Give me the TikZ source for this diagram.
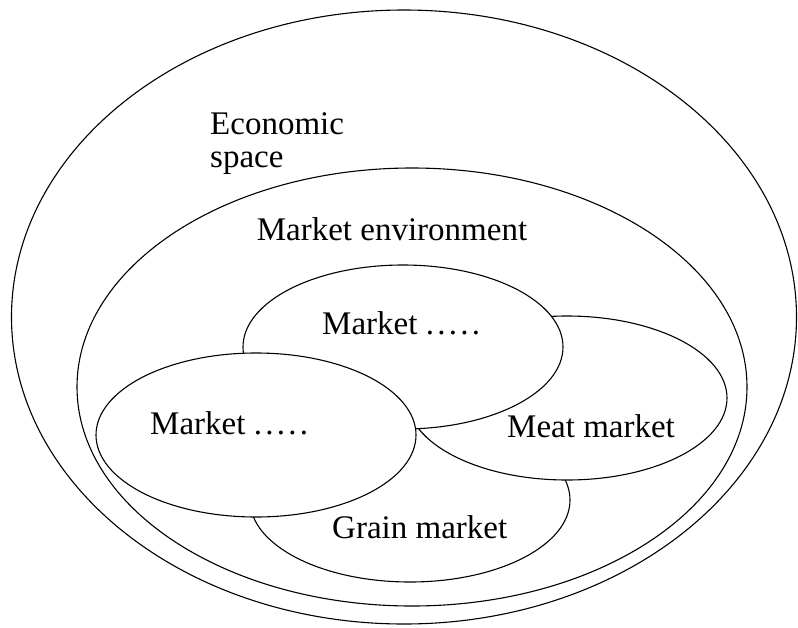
\documentclass[tikz,border=0pt]{standalone}
\usepackage{fontspec}
\setmainfont{Liberation Serif}
\usetikzlibrary{shapes.geometric}
\newcommand\sparsedots{{\addfontfeature{LetterSpace=10}.....}}
\begin{document}
\begin{tikzpicture}[x=1pt,y=-1pt,
  oval/.style={draw, ellipse, fill=white, line width=1.1pt, inner sep=0pt, outer sep=0pt},
  mkt/.style={oval, minimum width=320pt, minimum height=164pt},
  lbl/.style={inner sep=0pt, font=\fontsize{33}{33}\selectfont}]
\useasboundingbox (0,0) rectangle (798,627);

% nested areas
\node[oval, minimum width=785pt, minimum height=614pt] (space) at (404,317) {};
\node[oval, minimum width=670pt, minimum height=438pt] (env) at (412,387) {};

% individual markets, back to front
\node[mkt] (grain) at (410,500) {};
\node[mkt] (meat)  at (567,398) {};
\node[mkt] (mtop)  at (403,347) {};
\node[mkt] (mleft) at (256,435) {};

% labels
\node[lbl, anchor=north west, align=left] (spacelbl) at (210,112) {Economic\\space};
\node[lbl, anchor=base] (envlbl) at (392,240) {Market environment};
\node[lbl, anchor=base west] (mtoplbl) at (322,334) {Market \sparsedots};
\node[lbl, anchor=base west] (mleftlbl) at (150,434) {Market \sparsedots};
\node[lbl, anchor=base west] (meatlbl) at (507,437) {Meat market};
\node[lbl, anchor=base west] (grainlbl) at (332,538) {Grain market};
\end{tikzpicture}
\end{document}
